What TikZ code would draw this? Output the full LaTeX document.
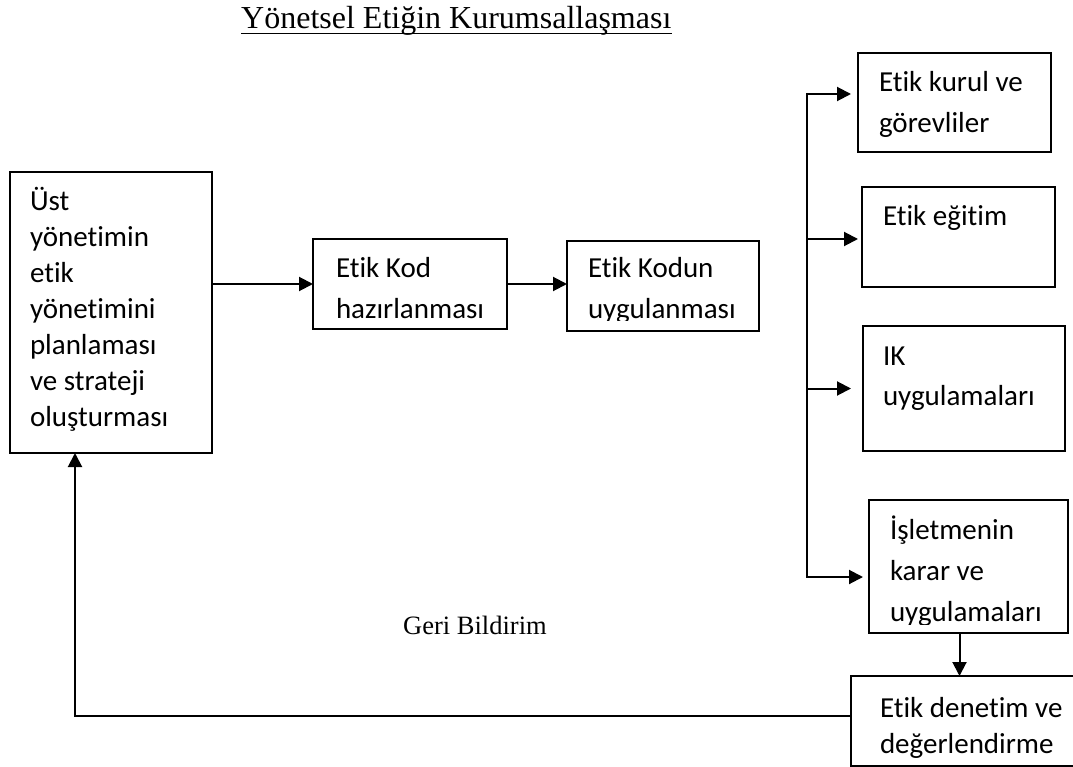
\documentclass[tikz,border=0pt]{standalone}
\usepackage{fontspec}
\setmainfont{Liberation Serif}
\newfontfamily\boxfont[Ligatures=NoCommon]{Carlito}
\usetikzlibrary{arrows.meta}
\begin{document}
\begin{tikzpicture}[x=1pt,y=-1pt,
  box/.style={draw, line width=1.6pt, inner sep=0pt, outer sep=0pt, anchor=north west},
  txt/.style={inner sep=0pt, outer sep=0pt, anchor=north west, align=left, font={\boxfont\fontsize{29}{41}\selectfont}},
  txttight/.style={txt, font={\boxfont\fontsize{29}{36}\selectfont}},
  arr/.style={line width=2pt, -{Triangle[length=14pt,width=14pt]}},
  ln/.style={line width=2pt}]
\useasboundingbox (0,0) rectangle (1073,767);
\fill[white] (0,0) rectangle (1073,767);

% title
\node[inner sep=0pt, anchor=base west, font={\fontsize{32}{38}\selectfont}] (title) at (241,29) {Yönetsel Etiğin Kurumsallaşması};
\draw[line width=1.6pt] ([yshift=-4.5pt]title.base west) -- ([yshift=-4.5pt]title.base east);

% boxes
\node[box, minimum width=202pt, minimum height=281pt] (A) at (10,172) {};
\node[box, minimum width=194pt, minimum height=90pt] (B) at (313,239) {};
\node[box, minimum width=192pt, minimum height=90pt] (C) at (567,241) {};
\node[box, minimum width=193pt, minimum height=99pt] (D) at (858,53) {};
\node[box, minimum width=193pt, minimum height=100pt] (E) at (862,187) {};
\node[box, minimum width=202pt, minimum height=125pt] (F) at (863,326) {};
\node[box, minimum width=199pt, minimum height=133pt] (G) at (869,500) {};
\node[box, minimum width=240pt, minimum height=90pt] (H) at (851,676) {};

% texts
\node[txttight] (At) at (30,180) {\rule{0pt}{30pt}Üst\\yönetimin\\etik\\yönetimini\\planlaması\\ve strateji\\oluşturması};
\begin{scope}
\clip (314,240) rectangle (506,320.5);
\node[txt, font={\boxfont\fontsize{29}{40}\selectfont}] (Bt) at (336,248) {\rule{0pt}{30pt}Etik Kod\\hazırlanması};
\end{scope}
\begin{scope}
\clip (568,242) rectangle (758,320.5);
\node[txt, font={\boxfont\fontsize{29}{40}\selectfont}] (Ct) at (588,248) {\rule{0pt}{30pt}Etik Kodun\\uygulanması};
\end{scope}
\node[txt] (Dt) at (879,62) {\rule{0pt}{30pt}Etik kurul ve\\görevliler};
\node[txt] (Et) at (883,196) {\rule{0pt}{30pt}Etik eğitim};
\node[txt, font={\boxfont\fontsize{29}{40}\selectfont}] (Ft) at (883,335) {\rule{0pt}{30pt}IK\\uygulamaları};
\begin{scope}
\clip (870,501) rectangle (1067,624.5);
\node[txt] (Gt) at (890,509) {\rule{0pt}{30pt}İşletmenin\\karar ve\\uygulamaları};
\end{scope}
\node[txttight] (Ht) at (880,687) {\rule{0pt}{30pt}Etik denetim ve\\değerlendirme};

\node[inner sep=0pt, anchor=base west, font={\fontsize{26.5}{32}\selectfont}] (gb) at (403,634) {Geri Bildirim};

% connectors
\draw[arr] (A.east |- B.west) -- (B.west);
\draw[arr] (B.east) -- (B.east -| C.west);

\coordinate (bt) at (807,94);
\coordinate (bb) at (807,577);
\draw[ln] ([yshift=1pt]bt) -- (bb);
\draw[arr, shorten >=7pt] (bt) -- (bt -| D.west);
\draw[arr, shorten >=4pt] (bt |- 0,239) -- (E.west |- 0,239);
\draw[arr, shorten >=12pt] (bt |- F.west) -- (F.west);
\draw[arr, shorten >=6pt] ([xshift=-1pt]bb) -- (bb -| G.west);

\draw[arr] ([xshift=-9pt]G.south) -- ([xshift=-9pt]G.south |- H.north);

\coordinate (fb) at (75,716);
\draw[arr] (H.west |- fb) -- (fb) -- (fb |- A.south);
\end{tikzpicture}
\end{document}
